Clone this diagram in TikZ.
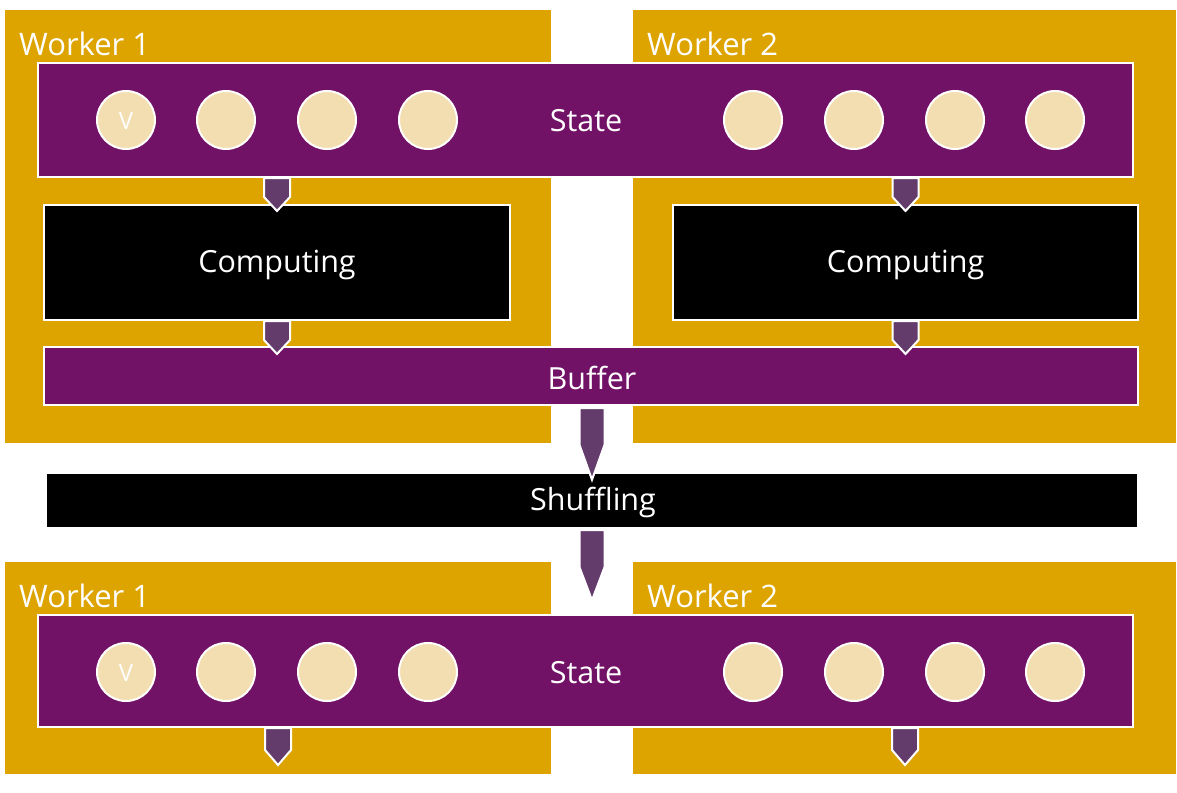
\documentclass[tikz,border=0pt]{standalone}
\usepackage{fontspec}
\setmainfont{Open Sans}
\usetikzlibrary{calc}
\definecolor{gold}{HTML}{DDA400}
\definecolor{plum}{HTML}{721267}
\definecolor{arrowc}{HTML}{633C6B}
\definecolor{cream}{HTML}{F3DEB1}
\tikzset{
  worker/.style={fill=gold, draw=white, line width=1.5pt, inner sep=0pt},
  bigtext/.style={font=\fontsize{30.5}{34}\selectfont},
  bar/.style={fill=plum, draw=white, line width=2pt, inner sep=0pt, text=white, bigtext},
  blackbox/.style={fill=black, draw=white, line width=2pt, inner sep=0pt, text=white, bigtext},
  cell/.style={circle, fill=cream, draw=white, line width=2pt, minimum size=58pt, inner sep=0pt},
  vtext/.style={text=white, inner sep=0pt, font=\fontsize{24}{28}\selectfont},
  wlabel/.style={anchor=west, text=white, inner sep=0pt, font=\fontsize{31}{34}\selectfont},
  arr/.style={fill=arrowc, draw=white, line width=2pt, line join=miter},
}
% #1 top, #2 tip, #3 half width, #4 height of pointed part
\newcommand\downarr[4]{%
  \path[arr] let \p1=#1, \p2=#2 in
    (\x2-#3,\y1) -- (\x2+#3,\y1) -- (\x2+#3,\y2+#4) -- (\x2,\y2) -- (\x2-#3,\y2+#4) -- cycle;}
\begin{document}
\begin{tikzpicture}[x=1pt,y=-1pt]
\useasboundingbox (0,0) rectangle (1177,792);
\fill[white] (0,0) rectangle (1177,792);
% top workers
\path[worker] (4,9) rectangle (552,444);
\path[worker] (632,9) rectangle (1177,444);
\node[wlabel] (w1) at (19,44) {Worker 1};
\node[wlabel] (w2) at (647,44) {Worker 2};
% state
\node[bar, minimum width=1095pt, minimum height=114pt] (state) at (585.5,120) {};
\node[text=white, bigtext, inner sep=0pt] (st1) at (586,121) {State};
\foreach \x [count=\i] in {126,226,327,428,753,854,955,1055}
  \node[cell] (c\i) at (\x,120) {};
\node[vtext] (v1) at ($(c1)+(0,1)$) {V};
% computing
\node[blackbox, minimum width=466pt, minimum height=115pt] (comp1) at (277,262.5) {};
\node[blackbox, minimum width=465pt, minimum height=115pt] (comp2) at (905.5,262.5) {};
\node[text=white, bigtext, inner sep=0pt] (ct1) at ($(comp1)+(0,2)$) {Computing};
\node[text=white, bigtext, inner sep=0pt] (ct2) at ($(comp2)+(0,2)$) {Computing};
% buffer
\node[bar, minimum width=1094pt, minimum height=58pt] (buffer) at (591,376) {};
\node[text=white, bigtext, inner sep=0pt] (bt) at (592,378) {Buffer};
% arrows state->computing
\downarr{(state.south)}{($(comp1.north)+(0,7)$)}{13pt}{14pt}
\downarr{(state.south)}{($(comp2.north)+(0,7)$)}{13pt}{14pt}
% computing -> buffer
\downarr{(comp1.south)}{($(comp1.south |- buffer.north)+(0,8)$)}{13pt}{14pt}
\downarr{(comp2.south)}{($(comp2.south |- buffer.north)+(0,8)$)}{13pt}{14pt}
% shuffling
\node[fill=black, minimum width=1090pt, minimum height=53pt, inner sep=0pt] (shuf) at (592,500.5) {};
\node[text=white, bigtext, inner sep=0pt] (sht) at (593,502) {Shuffling};
% bottom workers
\path[worker] (4,561) rectangle (552,775);
\path[worker] (632,561) rectangle (1177,775);
\node[wlabel] (w3) at (19,596) {Worker 1};
\node[wlabel] (w4) at (647,596) {Worker 2};
\node[bar, minimum width=1095pt, minimum height=112pt] (state2) at (585.5,671) {};
\node[text=white, bigtext, inner sep=0pt] (st2) at (586,673) {State};
\foreach \x [count=\i] in {126,226,327,428,753,854,955,1055}
  \node[cell] (d\i) at (\x,672) {};
\node[vtext] (v2) at ($(d1)+(0,1)$) {V};
% big arrows
\downarr{($(buffer.south)+(0,2)$)}{($(shuf.north)+(0,6)$)}{12.5pt}{35pt}
\downarr{($(shuf.south)+(0,3)$)}{($(shuf.south)+(0,73)$)}{12.5pt}{33pt}
% bottom small arrows
\coordinate (t1) at (278,765);
\coordinate (t2) at (905,765);
\downarr{(state2.south)}{(t1)}{13pt}{15pt}
\downarr{(state2.south)}{(t2)}{13pt}{15pt}
\end{tikzpicture}
\end{document}
